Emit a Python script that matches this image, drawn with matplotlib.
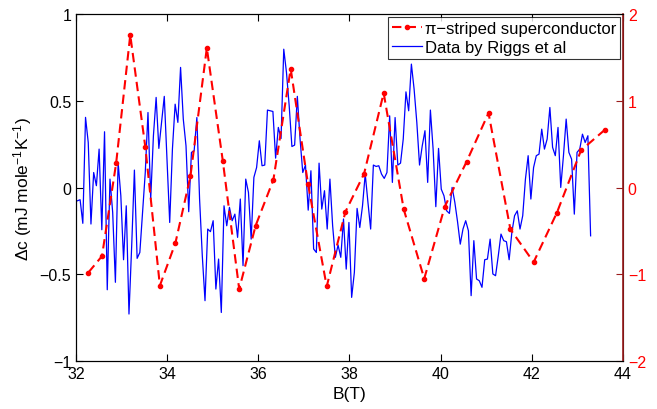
import numpy as np
import matplotlib
matplotlib.use("Agg")
import matplotlib.pyplot as plt
from matplotlib.ticker import FuncFormatter

plt.rcParams['font.family'] = ['Liberation Sans', 'DejaVu Sans']
plt.rcParams['mathtext.fontset'] = 'custom'
plt.rcParams['mathtext.rm'] = 'Liberation Sans'
plt.rcParams['mathtext.default'] = 'regular'

# measured data (Riggs et al), Delta c in mJ mole^-1 K^-1
dc = [-0.076, -0.070, -0.206, 0.405, 0.260, -0.210, 0.087, 0.011, 0.222, -0.243,
      0.322, -0.589, 0.049, -0.143, -0.546, 0.145, -0.047, -0.416, -0.105, -0.729,
      -0.335, 0.101, -0.408, -0.374,
      -0.143, 0.087, 0.433, -0.066, 0.299, 0.520, 0.226, 0.376, 0.526, 0.164,
      -0.201, 0.222, 0.481, 0.376, 0.693, 0.395, 0.241, -0.139, 0.203, 0.212,
      0.404, -0.066, -0.393,
      -0.652, -0.239, -0.254, -0.191, -0.585, -0.412, -0.720, -0.105, -0.220, -0.114,
      -0.191, -0.153, -0.287, -0.066, -0.450, 0.049, -0.028, -0.297, 0.059, 0.116,
      0.270, 0.126, 0.130,
      0.447, 0.443, 0.439, 0.170, 0.347, 0.283, 0.798, 0.664, 0.472, 0.237,
      0.245, 0.526, 0.280, 0.087, 0.130, -0.130, 0.097, -0.354, -0.374, 0.141,
      -0.124, -0.018, -0.239, 0.049,
      -0.220, -0.402, -0.331, -0.402, -0.181, -0.470, -0.201, -0.633, -0.489, -0.120,
      -0.230, -0.105, 0.078, -0.085, -0.239, 0.130, 0.122, 0.126, 0.078, 0.053,
      0.087, 0.414, 0.030,
      0.404, 0.130, 0.141, 0.280, 0.552, 0.443, 0.712, 0.568, 0.376, 0.130,
      0.241, 0.328, 0.030, 0.447, 0.222, -0.110, 0.226, -0.009, -0.047, -0.134,
      -0.149, 0.001, -0.085, -0.197,
      -0.326, -0.239, -0.191, -0.249, -0.623, -0.306, -0.527, -0.537, -0.575, -0.416,
      -0.412, -0.297, -0.498, -0.508, -0.393, -0.268, -0.306, -0.312, -0.416, -0.258,
      -0.162, -0.134, -0.239, -0.162,
      0.049, 0.184, -0.066, 0.116, 0.184, 0.193, 0.337, 0.222, 0.280, 0.462,
      0.232, 0.184, 0.347, 0.001, 0.184, 0.395, 0.203, 0.164, -0.153, 0.203,
      0.222, 0.308, 0.260, 0.299, -0.278]
B_data = np.linspace(32.03, 43.29, len(dc))

# model: pi-striped superconductor (right axis)
B_model = [32.27, 32.57, 32.88, 33.19, 33.52, 33.84, 34.18, 34.51, 34.87, 35.22,
           35.58, 35.94, 36.33, 36.71, 37.09, 37.50, 37.91, 38.32, 38.75, 39.19,
           39.64, 40.09, 40.57, 41.05, 41.53, 42.04, 42.55, 43.08, 43.61]
model = [-0.98, -0.79, 0.28, 1.76, 0.47, -1.13, -0.64, 0.13, 1.61, 0.31,
         -1.17, -0.44, 0.09, 1.37, 0.04, -1.14, -0.28, 0.16, 1.09, -0.25,
         -1.05, -0.22, 0.30, 0.86, -0.48, -0.86, -0.29, 0.43, 0.67]

fig = plt.figure(figsize=(6.57, 4.10), dpi=100)
ax = fig.add_axes([0.1157, 0.117, 0.8325, 0.846])
ax2 = ax.twinx()

l_data, = ax.plot(B_data, dc, color='#0000ff', lw=0.9, label='Data by Riggs et al')
l_model, = ax2.plot(B_model, model, color='#ff0000', lw=1.5, ls=(0, (4.5, 2.5)),
                    marker='o', ms=3, label='π−striped superconductor')

fmt = FuncFormatter(lambda v, p: ('%g' % v).replace('-', '\u2212'))

ax.set_xlim(32, 44)
ax.set_ylim(-1, 1)
ax.set_xticks([32, 34, 36, 38, 40, 42, 44])
ax.set_yticks([-1, -0.5, 0, 0.5, 1])
ax.yaxis.set_major_formatter(fmt)
ax.tick_params(direction='in', top=True, labelsize=11.5, length=5, width=0.8)
ax.set_xlabel('B(T)', fontsize=12.5)
ax.set_ylabel(r'Δc (mJ mole$^{-1}$K$^{-1}$)', fontsize=12.5)

rc = '#9b1c1c'
ax2.set_ylim(-2, 2)
ax2.set_yticks([-2, -1, 0, 1, 2])
ax2.yaxis.set_major_formatter(fmt)
ax2.tick_params(axis='y', direction='in', colors=rc, labelcolor='#ff0000',
                labelsize=11.5, length=5, width=0.8)
ax2.spines['right'].set_color(rc)
ax2.spines['right'].set_linewidth(1.2)

leg = ax2.legend([l_model, l_data], [l_model.get_label(), l_data.get_label()],
                 loc='upper right', fontsize=12, frameon=True, fancybox=False,
                 borderpad=0.25, labelspacing=0.25, handlelength=1.8,
                 handletextpad=0.15, borderaxespad=0.15)
leg.get_frame().set_edgecolor('black')
leg.get_frame().set_linewidth(0.8)

fig.savefig('out.png', dpi=100)
